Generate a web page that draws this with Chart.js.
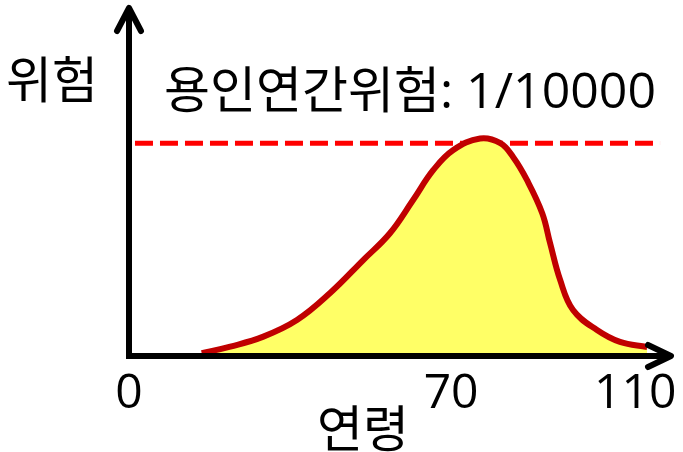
<!DOCTYPE html>
<html lang="ko">
<head>
<meta charset="utf-8">
<script src="https://cdn.jsdelivr.net/npm/chart.js@4.4.1/dist/chart.umd.min.js"></script>
<style>
  html, body { margin: 0; padding: 0; background: #fff; }
  #box { width: 683px; height: 452px; }
</style>
</head>
<body>
<div id="box"><canvas id="myChart"></canvas></div>
<script>
// 연령별 위험 곡선
const ages = [15.8, 22, 29.2, 36.5, 43.7, 50.9, 56.7, 61.7, 66.1, 70.4, 76.3, 80.7, 83.5, 86.5, 89.8, 91.5, 93.7, 96.5, 101.7, 106.7, 112.6]
const risk = [0.013, 0.044, 0.091, 0.169, 0.296, 0.451, 0.577, 0.732, 0.873, 0.967, 1.022, 1.0, 0.934, 0.826, 0.671, 0.531, 0.357, 0.216, 0.122, 0.066, 0.042]
// 용인 위험 기준선
const limitAges = [1.3, 115.4]
const limitRisk = [1, 1]
const xTicks = [0, 70, 110]

const FONT = '"Open Sans", "Noto Sans CJK KR", sans-serif'

const toPoints = (xs, ys) => xs.map((x, i) => ({ x: x, y: ys[i] }))

// 화살표 축과 글자
const decor = {
  id: 'decor',
  afterDatasetsDraw(chart) {
    const ctx = chart.ctx
    const a = chart.chartArea
    const x0 = chart.scales.x.getPixelForValue(0)
    const y0 = chart.scales.y.getPixelForValue(0)
    ctx.save()
    ctx.strokeStyle = '#000'
    ctx.lineWidth = 6
    ctx.lineJoin = 'miter'
    ctx.beginPath()
    ctx.moveTo(x0, a.top + 2)
    ctx.lineTo(x0, y0)
    ctx.lineTo(a.right - 2, y0)
    ctx.stroke()
    ctx.lineJoin = 'round'
    ctx.lineCap = 'round'
    ctx.beginPath()
    ctx.moveTo(x0 - 12, a.top + 24)
    ctx.lineTo(x0, a.top + 1)
    ctx.lineTo(x0 + 12, a.top + 24)
    ctx.moveTo(a.right - 24, y0 - 11)
    ctx.lineTo(a.right - 1, y0)
    ctx.lineTo(a.right - 24, y0 + 11)
    ctx.stroke()

    ctx.fillStyle = '#000'
    ctx.font = '50px ' + FONT
    ctx.textBaseline = 'alphabetic'
    ctx.textAlign = 'left'
    ctx.fillText('위험', 6, 98)
    ctx.fillText('용인연간위험: 1/10000', 164, 108)
    ctx.textAlign = 'center'
    ctx.fillText('연령', 363, 447)
    ctx.restore()
  }
}

const config = {
  type: 'line',
  data: {
    datasets: [{
      data: toPoints(ages, risk),
      borderColor: '#C00000',
      borderWidth: 6,
      backgroundColor: '#FFFF66',
      fill: 'origin',
      tension: 0.4,
      pointRadius: 0
    }, {
      data: toPoints(limitAges, limitRisk),
      borderColor: '#FF0000',
      borderWidth: 5,
      borderDash: [18, 7],
      fill: false,
      pointRadius: 0
    }]
  },
  options: {
    responsive: false,
    animation: false,
    layout: { padding: { left: 129, right: 11, top: 7, bottom: 0 } },
    plugins: { legend: { display: false }, tooltip: { enabled: false } },
    scales: {
      x: {
        type: 'linear',
        min: 0,
        max: 118,
        grid: { display: false },
        border: { display: false },
        afterBuildTicks: scale => { scale.ticks = xTicks.map(v => ({ value: v })) },
        afterFit: scale => { scale.height = 96 },
        ticks: {
          color: '#000',
          padding: 2,
          maxRotation: 0,
          font: { family: FONT, size: 48 }
        }
      },
      y: {
        display: false,
        min: 0,
        max: 1.64
      }
    }
  },
  plugins: [decor]
}

const canvas = document.getElementById('myChart')
canvas.width = 683
canvas.height = 452
const myChart = new Chart(canvas, config)
</script>
</body>
</html>
